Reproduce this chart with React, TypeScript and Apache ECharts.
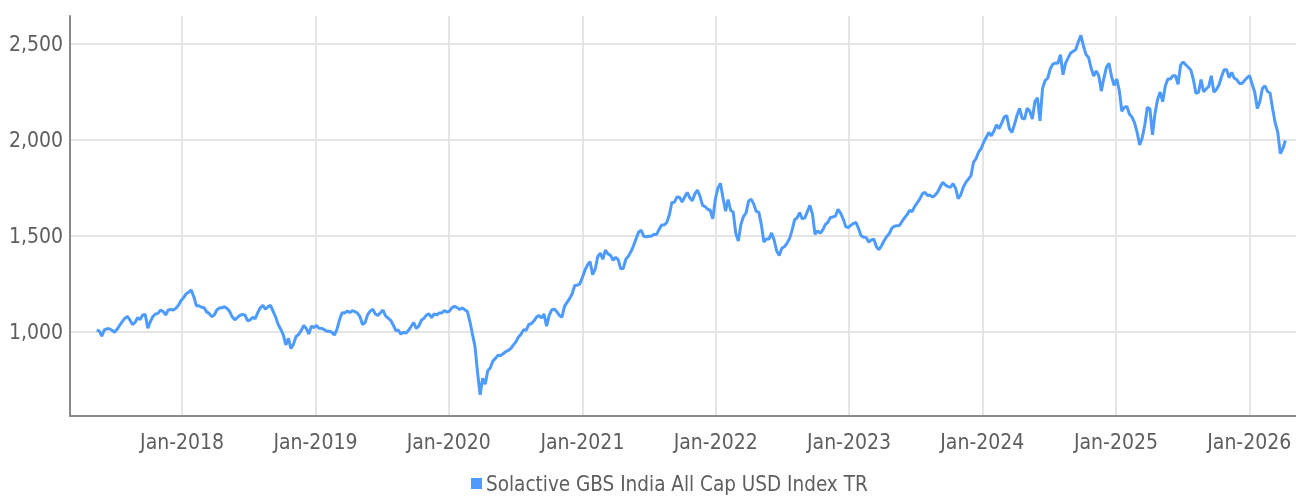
import React, { useEffect, useRef } from 'react';
import * as echarts from 'echarts';

// Weekly index levels, first observation on 2017-05-12, one value per week
const startDate = [2017, 4, 12];
const stepDays = 7;
const indexValues = [
  1010, 1007, 980, 1012, 1018, 1018, 1010, 1000, 1015, 1036,
  1055, 1072, 1083, 1064, 1040, 1050, 1075, 1066, 1090, 1092,
  1021, 1055, 1082, 1095, 1098, 1115, 1108, 1090, 1116, 1118,
  1116, 1125, 1140, 1165, 1180, 1200, 1208, 1220, 1185, 1138,
  1138, 1130, 1128, 1106, 1098, 1081, 1090, 1116, 1126, 1127,
  1133, 1124, 1109, 1080, 1065, 1076, 1088, 1092, 1090, 1060,
  1064, 1077, 1070, 1102, 1127, 1140, 1120, 1132, 1140, 1110,
  1080, 1040, 1016, 986, 934, 968, 915, 938, 978, 988,
  1008, 1035, 1020, 990, 1032, 1024, 1035, 1021, 1020, 1014,
  1005, 1005, 1000, 985, 1015, 1065, 1101, 1100, 1110, 1103,
  1112, 1107, 1100, 1081, 1040, 1050, 1092, 1110, 1120, 1095,
  1088, 1101, 1115, 1085, 1074, 1062, 1038, 1008, 1012, 990,
  1000, 995, 1010, 1030, 1050, 1020, 1032, 1062, 1072, 1089,
  1095, 1076, 1095, 1090, 1100, 1100, 1113, 1105, 1110, 1128,
  1134, 1128, 1118, 1127, 1117, 1108, 1055, 990, 925, 790,
  674, 760, 730, 800, 815, 850, 864, 880, 878, 888,
  899, 905, 915, 934, 950, 975, 990, 1013, 1010, 1040,
  1044, 1058, 1078, 1087, 1074, 1094, 1032, 1088, 1116, 1120,
  1107, 1088, 1078, 1135, 1155, 1175, 1200, 1243, 1245, 1252,
  1285, 1323, 1350, 1368, 1300, 1328, 1393, 1412, 1380, 1427,
  1408, 1400, 1375, 1390, 1378, 1330, 1332, 1380, 1396, 1420,
  1450, 1487, 1522, 1530, 1500, 1497, 1500, 1500, 1510, 1508,
  1535, 1558, 1558, 1571, 1610, 1675, 1677, 1704, 1703, 1677,
  1704, 1728, 1700, 1685, 1720, 1740, 1708, 1660, 1654, 1640,
  1635, 1590, 1692, 1750, 1775, 1700, 1630, 1690, 1635, 1625,
  1515, 1475, 1560, 1602, 1620, 1682, 1693, 1668, 1628, 1625,
  1560, 1470, 1485, 1485, 1517, 1480, 1423, 1400, 1437, 1445,
  1463, 1486, 1530, 1585, 1596, 1623, 1590, 1595, 1628, 1660,
  1615, 1510, 1528, 1515, 1532, 1560, 1572, 1597, 1600, 1605,
  1640, 1620, 1590, 1550, 1545, 1556, 1566, 1572, 1541, 1502,
  1495, 1493, 1470, 1480, 1485, 1445, 1429, 1450, 1476, 1497,
  1512, 1540, 1552, 1554, 1555, 1576, 1595, 1612, 1635, 1628,
  1655, 1674, 1694, 1720, 1728, 1712, 1714, 1703, 1714, 1730,
  1758, 1780, 1766, 1758, 1755, 1773, 1750, 1695, 1715, 1755,
  1780, 1797, 1815, 1885, 1904, 1938, 1957, 1990, 2015, 2040,
  2022, 2048, 2080, 2060, 2088, 2120, 2128, 2060, 2040, 2080,
  2128, 2165, 2114, 2110, 2166, 2150, 2110, 2200, 2220, 2100,
  2270, 2310, 2322, 2370, 2395, 2401, 2400, 2444, 2340, 2401,
  2428, 2453, 2462, 2472, 2512, 2545, 2490, 2445, 2430, 2375,
  2333, 2360, 2335, 2255, 2323, 2380, 2400, 2330, 2285, 2318,
  2260, 2150, 2170, 2175, 2135, 2120, 2090, 2040, 1975, 2012,
  2080, 2170, 2163, 2028, 2140, 2212, 2250, 2200, 2280, 2318,
  2318, 2335, 2335, 2290, 2390, 2407, 2392, 2379, 2365, 2315,
  2243, 2248, 2315, 2252, 2266, 2279, 2335, 2250, 2263, 2287,
  2330, 2366, 2366, 2325, 2353, 2322, 2315, 2295, 2295, 2310,
  2325, 2335, 2290, 2250, 2165, 2200, 2270, 2283, 2253, 2245,
  2163, 2090, 2042, 1930, 1955, 1998,
];

const seriesName = 'Solactive GBS India All Cap USD Index TR';
const tickYears = [2018, 2019, 2020, 2021, 2022, 2023, 2024, 2025, 2026];
const xRangeStart = [2017, 1, 28];
const xRangeEnd = [2026, 4, 9];
const yRange = [564, 2646];
const yStep = 500;

const FONT = "'Liberation Sans Narrow', 'DejaVu Sans Condensed', Roboto, sans-serif";
const TEXT_COLOR = '#5e5e5e';

export default function App() {
  const ref = useRef<HTMLDivElement>(null);

  useEffect(() => {
    if (!ref.current) return;
    const chart = echarts.init(ref.current, undefined, { renderer: 'svg' });
    const t0 = new Date(startDate[0], startDate[1], startDate[2]).getTime();
    const day = 86400000;
    const data = indexValues.map((v, i) => [t0 + i * stepDays * day, v]);
    const yearTicks = tickYears.map((y) => new Date(y, 0, 1).getTime());

    chart.setOption({
      animation: false,
      textStyle: { fontFamily: FONT },
      grid: { left: 70, right: 0, top: 16, bottom: 82, containLabel: false },
      legend: {
        data: [{ name: seriesName, icon: 'rect' }],
        left: 471,
        top: 473,
        padding: 0,
        itemWidth: 11,
        itemHeight: 11,
        itemGap: 10,
        textStyle: { fontFamily: FONT, fontSize: 20.5, color: TEXT_COLOR, padding: [0, 0, 0, -1] },
      },
      xAxis: {
        type: 'value',
        min: new Date(xRangeStart[0], xRangeStart[1], xRangeStart[2]).getTime(),
        max: new Date(xRangeEnd[0], xRangeEnd[1], xRangeEnd[2]).getTime(),
        axisLine: { show: true, lineStyle: { color: '#8a8a8a', width: 2 } },
        axisTick: { show: false, customValues: yearTicks },
        axisLabel: {
          customValues: yearTicks,
          formatter: (val: number) => 'Jan-' + new Date(val).getFullYear(),
          color: TEXT_COLOR,
          fontSize: 21,
          fontFamily: FONT,
          margin: 15,
        },
        splitLine: { show: true, lineStyle: { color: '#e5e5e5', width: 2 } },
      },
      yAxis: {
        type: 'value',
        min: yRange[0],
        max: yRange[1],
        minInterval: yStep,
        maxInterval: yStep,
        splitNumber: 4,
        axisLine: { show: true, lineStyle: { color: '#8a8a8a', width: 2 } },
        axisTick: { show: false },
        axisLabel: {
          showMinLabel: false,
          showMaxLabel: false,
          formatter: (v: number) => v.toLocaleString('en-US'),
          color: TEXT_COLOR,
          fontSize: 21,
          fontFamily: FONT,
          margin: 7,
        },
        splitLine: { show: true, showMinLine: false, showMaxLine: false, lineStyle: { color: '#e5e5e5', width: 2 } },
      },
      series: [
        {
          name: seriesName,
          type: 'line',
          data,
          showSymbol: false,
          symbol: 'none',
          lineStyle: { color: '#4d9bff', width: 3 },
          itemStyle: { color: '#4d9bff' },
        },
      ],
    });
    return () => chart.dispose();
  }, []);

  return (
    <div
      ref={ref}
      style={{ position: 'fixed', left: 0, top: 0, width: 1296, height: 498 }}
    />
  );
}
